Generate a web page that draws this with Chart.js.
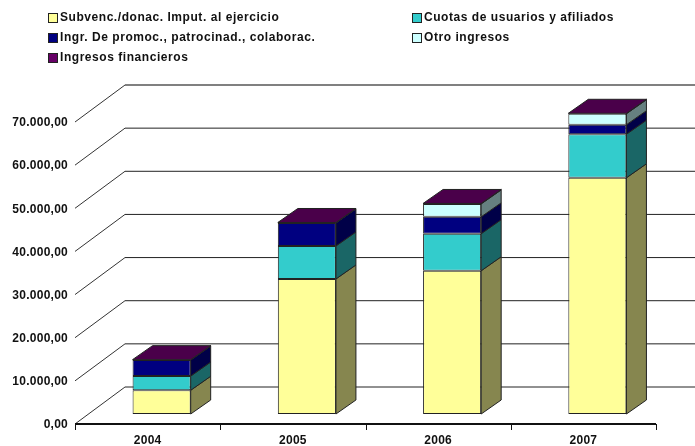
<!DOCTYPE html>
<html>
<head>
<meta charset="utf-8">
<script src="https://cdn.jsdelivr.net/npm/chart.js@4"></script>
<style>
body { margin: 0; background: #fff; }
#wrap { position: relative; width: 695px; height: 446px; overflow: hidden; }
#legend span { position: absolute; font: bold 12px "Liberation Sans", Arial, sans-serif; color: #111; white-space: nowrap; }
#legend i { position: absolute; width: 8px; height: 8px; border: 1px solid #222; }
</style>
</head>
<body>
<div id="wrap">
<canvas id="c" width="695" height="446"></canvas>
<div id="legend"></div>
</div>
<script>
const years = ['2004', '2005', '2006', '2007'];
const subvenciones = [5500, 31300, 33200, 54750];
const cuotas = [3300, 7650, 8600, 10100];
const promociones = [3700, 5340, 3900, 2200];
const otros = [0, 0, 3000, 2550];
const financieros = [100, 100, 100, 100];
const yTickLabels = ['0,00', '10.000,00', '20.000,00', '30.000,00', '40.000,00', '50.000,00', '60.000,00', '70.000,00'];

// name, front colour, side colour
const series = [
    { label: 'Subvenc./donac. Imput. al ejercicio', data: subvenciones, color: '#ffff99', side: '#86864f' },
    { label: 'Cuotas de usuarios y afiliados', data: cuotas, color: '#33cccc', side: '#1a6666' },
    { label: 'Ingr. De promoc., patrocinad., colaborac.', data: promociones, color: '#000080', side: '#000048' },
    { label: 'Otro ingresos', data: otros, color: '#ccffff', side: '#668080' },
    { label: 'Ingresos financieros', data: financieros, color: '#660066', side: '#4a004a' }
];

// bars stand 14px right / 10px up from the front edge of the floor
const barDX = 14, barDY = 10;
const wallDX = 50, wallDY = 37;
const depthX = 20, depthY = 14;

function poly(ctx, pts, fill) {
    ctx.beginPath();
    pts.forEach((p, i) => i ? ctx.lineTo(p[0], p[1]) : ctx.moveTo(p[0], p[1]));
    ctx.closePath();
    ctx.fillStyle = fill;
    ctx.fill();
    ctx.stroke();
}

const walls = {
    id: 'walls',
    beforeDraw(chart) {
        chart.ctx.letterSpacing = '0.25px';
    },
    beforeDatasetsDraw(chart) {
        const { ctx, scales: { x, y }, chartArea } = chart;
        const left = chartArea.left - barDX;
        ctx.save();
        y.ticks.forEach((t, i) => {
            const fy = y.getPixelForValue(t.value) + barDY;
            ctx.strokeStyle = i === y.ticks.length - 1 ? '#808080' : '#222';
            ctx.lineWidth = i === y.ticks.length - 1 ? 2 : 1;
            ctx.beginPath();
            ctx.moveTo(left + wallDX, fy - wallDY);
            ctx.lineTo(695, fy - wallDY);
            ctx.stroke();
            ctx.strokeStyle = '#333';
            ctx.lineWidth = 1;
            ctx.beginPath();
            ctx.moveTo(left, fy);
            ctx.lineTo(left + wallDX, fy - wallDY);
            ctx.stroke();
        });
        // front edge of the floor with its ticks
        const base = y.getPixelForValue(0) + barDY;
        const step = x.getPixelForValue(1) - x.getPixelForValue(0);
        ctx.strokeStyle = '#111';
        ctx.lineWidth = 2;
        ctx.beginPath();
        ctx.moveTo(left, base);
        ctx.lineTo(left + step * years.length, base);
        ctx.stroke();
        ctx.lineWidth = 1;
        for (let i = 0; i <= years.length; i++) {
            const px = Math.round(left + step * i) + 0.5;
            ctx.beginPath();
            ctx.moveTo(px, base);
            ctx.lineTo(px, base + 6);
            ctx.stroke();
        }
        ctx.restore();
    },
    afterDatasetsDraw(chart) {
        const ctx = chart.ctx;
        ctx.save();
        ctx.strokeStyle = '#222';
        ctx.lineWidth = 1;
        series.forEach((s, d) => {
            chart.getDatasetMeta(d).data.forEach((bar, i) => {
                if (!s.data[i]) return;
                const r = bar.x + bar.width / 2, l = bar.x - bar.width / 2;
                poly(ctx, [[r, bar.base], [r + depthX, bar.base - depthY], [r + depthX, bar.y - depthY], [r, bar.y]], s.side);
                if (d === series.length - 1) {
                    poly(ctx, [[l, bar.y], [l + depthX, bar.y - depthY], [r + depthX, bar.y - depthY], [r, bar.y]], s.side);
                }
            });
        });
        ctx.restore();
    }
};

new Chart(document.getElementById('c'), {
    type: 'bar',
    plugins: [walls],
    data: {
        labels: years,
        datasets: series.map(s => ({
            label: s.label,
            data: s.data,
            backgroundColor: s.color,
            borderColor: '#222',
            borderWidth: 1,
            borderSkipped: false
        }))
    },
    options: {
        responsive: false,
        animation: false,
        layout: { padding: { left: 0, top: 112, right: 25, bottom: 0 } },
        plugins: { legend: { display: false }, tooltip: { enabled: false } },
        datasets: { bar: { barPercentage: 0.4, categoryPercentage: 1 } },
        scales: {
            x: {
                stacked: true,
                grid: { display: false },
                border: { display: false },
                afterFit: s => { s.height = 32; },
                ticks: {
                    padding: 11,
                    labelOffset: -barDX,
                    maxRotation: 0,
                    color: '#111',
                    font: { family: '"Liberation Sans"', size: 12, weight: 'bold' }
                }
            },
            y: {
                stacked: true,
                min: 0,
                max: 70000,
                grid: { display: false },
                border: { display: false },
                afterFit: s => { s.width = 89; },
                ticks: {
                    stepSize: 10000,
                    padding: 13,
                    labelOffset: barDY + 1,
                    color: '#111',
                    font: { family: '"Liberation Sans"', size: 12, weight: 'bold' },
                    callback: (v, i) => yTickLabels[i]
                }
            }
        }
    }
});

// Two-column legend, filled column by column
const legendBox = document.getElementById('legend');
const legendPos = [[48, 10], [412, 10], [48, 30], [412, 30], [48, 50]];
series.forEach((s, i) => {
    const box = document.createElement('i');
    box.style.left = legendPos[i][0] + 'px';
    box.style.top = legendPos[i][1] + 3 + 'px';
    box.style.background = s.color;
    const txt = document.createElement('span');
    txt.textContent = s.label;
    txt.style.left = legendPos[i][0] + 12 + 'px';
    txt.style.top = legendPos[i][1] + 'px';
    txt.style.letterSpacing = '0.55px';
    legendBox.appendChild(box);
    legendBox.appendChild(txt);
});
</script>
</body>
</html>
